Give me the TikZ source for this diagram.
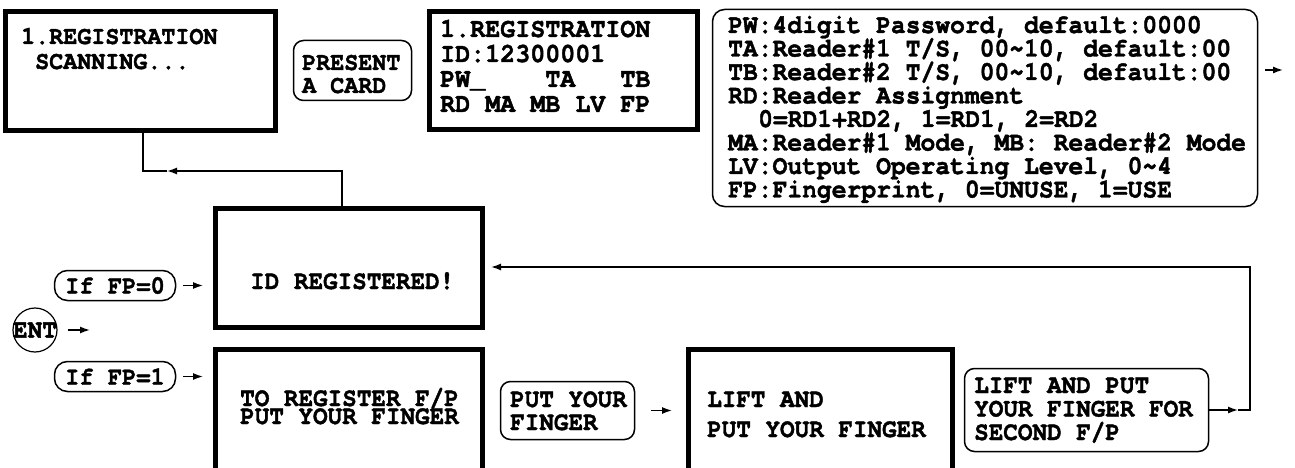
\documentclass[tikz,border=0pt]{standalone}
\usepackage{fontspec}
\newfontfamily\lcdfont{texgyrecursor-bold.otf}[FakeStretch=0.92,FakeBold=1.5]
\usetikzlibrary{arrows.meta}
\newcommand\lcdlines[2]{\vtop{\baselineskip=#1\lineskiplimit=-16000pt\relax #2}}
\begin{document}
\frenchspacing
\begin{tikzpicture}[x=1pt,y=-1pt,
  thickbox/.style={draw, line width=5pt, inner sep=0pt},
  softbox/.style={draw, line width=1.5pt, rounded corners=10pt, inner sep=0pt},
  lcd/.style={font=\lcdfont\fontsize{#1}{#1}\selectfont, inner sep=0pt, anchor=base west},
  lcd/.default=26.4,
  lcdc/.style={font=\lcdfont\fontsize{#1}{#1}\selectfont, inner sep=0pt},
  lcdc/.default=26.4,
  conn/.style={line width=1.4pt},
  tip/.style={-{Latex[length=10pt,width=7pt]}},
]
\clip (0,0) rectangle (1295,468);
\fill[white] (0,0) rectangle (1295,468);

% ---- top row ----
\node[thickbox, minimum width=270pt, minimum height=119pt] (scan) at (140.5,71) {};
\node[lcd=25.4] (scanT) at (21,44) {\lcdlines{25pt}{\hbox{1.REGISTRATION}\hbox{\ SCANNING...}}};

\node[softbox, minimum width=118pt, minimum height=60pt] (card) at (352.5,70.5) {};
\node[lcd=25.4] (cardT) at (302,70) {\lcdlines{23pt}{\hbox{PRESENT}\hbox{A CARD}}};

\node[thickbox, minimum width=268pt, minimum height=118pt] (menu) at (563.5,70.5) {};
\node[lcd=27.2] (menuT) at (440,37) {\lcdlines{25pt}{\hbox{1.REGISTRATION}\hbox{ID:12300001}\hbox{PW\_\ \ \ \ TA\ \ \ TB}\hbox{RD MA MB LV FP}}};

\node[softbox, rounded corners=12pt, minimum width=545pt, minimum height=197pt] (info) at (985,108) {};
\node[lcd=26.8] (infoT) at (728,33) {\lcdlines{23.5pt}{%
  \hbox{PW:4digit Password, default:0000}%
  \hbox{TA:Reader\#1 T/S, 00\textasciitilde10, default:00}%
  \hbox{TB:Reader\#2 T/S, 00\textasciitilde10, default:00}%
  \hbox{RD:Reader Assignment}%
  \hbox{\hspace{30pt}0=RD1+RD2, 1=RD1, 2=RD2}%
  \hbox{MA:Reader\#1 Mode, MB: Reader\#2 Mode}%
  \hbox{LV:Output Operating Level, 0\textasciitilde4}%
  \hbox{FP:Fingerprint, 0=UNUSE, 1=USE}}};
\coordinate (infoend) at (1283,70);
\draw[conn,tip,shorten <=7pt] (info.east |- infoend) -- (infoend);

% ---- middle / bottom ----
\node[thickbox, minimum width=267pt, minimum height=119pt] (idb) at (349,268) {};
\node[lcd] (idbT) at (250,289) {ID REGISTERED!};

\node[thickbox, minimum width=267pt, minimum height=137.5pt] (tor) at (349,418) {};
\node[lcd] (torT) at (240,406) {\lcdlines{18pt}{\hbox{TO REGISTER F/P}\hbox{PUT YOUR FINGER}}};

\node[softbox, rounded corners=13pt, minimum width=121pt, minimum height=30pt, lcdc=25.8] (if0) at (115,285.5) {If FP=0};
\node[softbox, rounded corners=13pt, minimum width=121pt, minimum height=30pt, lcdc=25.8] (if1) at (115,376.5) {If FP=1};
\node[draw, circle, line width=1.2pt, minimum size=44pt, inner sep=0pt] (ent) at (35,330) {};
\node[lcdc=26.4] (entT) at (ent.center) {ENT};
\coordinate (entend) at (90,330);

\draw[conn,tip,shorten <=7pt,shorten >=10pt] (if0.east) -- (if0.east -| idb.west);
\draw[conn,tip,shorten <=10pt] (ent.east) -- (entend);
\draw[conn,tip,shorten <=7pt,shorten >=10pt] (if1.east) -- (if1.east -| tor.west);

\node[softbox, minimum width=134pt, minimum height=58pt] (pyf) at (567.5,410.5) {};
\node[lcd] (pyfT) at (510,407) {\lcdlines{23pt}{\hbox{PUT YOUR}\hbox{FINGER}}};

\node[thickbox, minimum width=264pt, minimum height=137.5pt] (lift) at (820.5,418) {};
\node[lcd] (liftT) at (707,407) {\lcdlines{30pt}{\hbox{LIFT AND}\hbox{PUT YOUR FINGER}}};

\draw[conn,tip,shorten <=16pt,shorten >=14pt] (pyf.east) -- (pyf.east -| lift.west);

\node[softbox, minimum width=244pt, minimum height=83pt] (lap) at (1086.5,410) {};
\node[lcd] (lapT) at (974,393) {\lcdlines{23.5pt}{\hbox{LIFT AND PUT}\hbox{YOUR FINGER FOR}\hbox{SECOND F/P}}};

% ---- connectors ----
\coordinate (k1) at (143,171);
\coordinate (k2) at (342,171);
\coordinate (k3) at (167,171);
\draw[conn,tip] (idb.north -| k2) -- (k2) -- (k3);
\draw[conn] (k3) -- (k1) -- (scan.south -| k1);

\coordinate (f1) at (1250,410);
\coordinate (f2) at (1250,267);
\coordinate (fm) at (1238,410);
\draw[conn,tip] (lap.east) -- (fm);
\draw[conn,tip,shorten >=6pt] (fm) -- (f1) -- (f2) -- (f2 -| idb.east);
\end{tikzpicture}
\end{document}
